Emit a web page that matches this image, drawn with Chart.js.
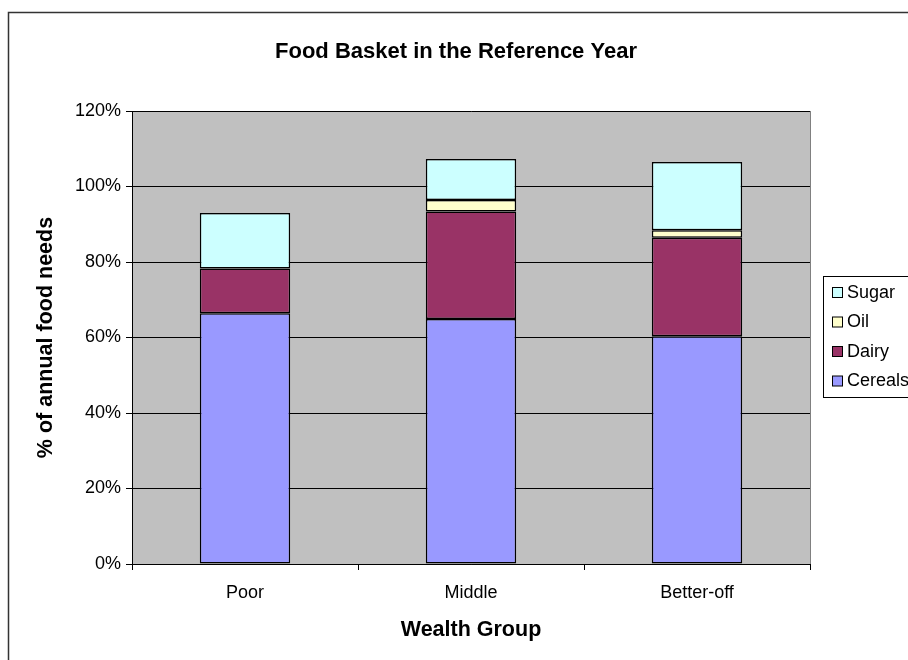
<!DOCTYPE html>
<html>
<head>
<meta charset="utf-8">
<title>Food Basket in the Reference Year</title>
<script src="https://cdn.jsdelivr.net/npm/chart.js@4/dist/chart.umd.min.js"></script>
<style>
  html, body { margin: 0; padding: 0; background: #fff; }
  #wrap { position: relative; width: 908px; height: 660px; }
</style>
</head>
<body>
<div id="wrap"><canvas id="basketChart" width="908" height="660"></canvas></div>
<script>
// Wealth groups and food shares (% of annual needs)
const groups = ['Poor', 'Middle', 'Better-off'];
const cereals = [66.4, 64.9, 60.3];
const dairy = [11.9, 28.5, 26.1];
const oil = [0, 3.0, 2.0];
const sugar = [14.7, 10.9, 18.1];
const yTicks = [0, 20, 40, 60, 80, 100, 120];

const colors = {
    cereals: '#9999FF',
    dairy: '#993366',
    oil: '#FFFFCC',
    sugar: '#CCFFFF',
    plot: '#C0C0C0'
};

const FONT = '"Liberation Sans", Arial, sans-serif';

function series(label, data, color) {
    return {
        label: label,
        data: data,
        backgroundColor: color,
        borderColor: '#000',
        borderWidth: 1.5,
        borderSkipped: false,
        barPercentage: 0.40,
        categoryPercentage: 1.0
    };
}

// grey plot area, frame round the whole chart, title and legend
const excelLook = {
    id: 'excelLook',
    beforeDraw(chart) {
        const { ctx: c, chartArea: a } = chart;
        c.save();
        c.fillStyle = '#fff';
        c.fillRect(0, 0, chart.width, chart.height);
        c.strokeStyle = '#333';
        c.lineWidth = 1.5;
        c.strokeRect(8.5, 12.5, chart.width + 10, chart.height + 10);
        c.fillStyle = colors.plot;
        c.fillRect(a.left, a.top, a.right - a.left, a.bottom - a.top);
        c.strokeStyle = '#808080';
        c.lineWidth = 1;
        c.strokeRect(a.left + 0.5, a.top + 0.5, a.right - a.left, a.bottom - a.top);
        c.restore();
    },
    afterDraw(chart) {
        const c = chart.ctx;
        c.save();
        c.fillStyle = '#000';
        c.font = 'bold 22px ' + FONT;
        c.textAlign = 'center';
        c.textBaseline = 'middle';
        c.fillText('Food Basket in the Reference Year', 456, 52);

        // legend, top series first
        const lx = 823, ly = 276, lh = 121;
        c.fillStyle = '#fff';
        c.fillRect(lx, ly, 100, lh);
        c.strokeStyle = '#000';
        c.lineWidth = 1;
        c.strokeRect(lx + 0.5, ly + 0.5, 100, lh);
        c.font = '18px ' + FONT;
        c.textAlign = 'left';
        const items = chart.data.datasets.slice().reverse();
        items.forEach((ds, i) => {
            const y = ly + 17 + i * 29.5;
            c.fillStyle = ds.backgroundColor;
            c.fillRect(lx + 9.5, y - 5.5, 10, 10);
            c.strokeStyle = '#000';
            c.strokeRect(lx + 9.5, y - 5.5, 10, 10);
            c.fillStyle = '#000';
            c.fillText(ds.label, lx + 24, y);
        });
        c.restore();
    }
};

new Chart(document.getElementById('basketChart'), {
    type: 'bar',
    data: {
        labels: groups,
        datasets: [
            series('Cereals', cereals, colors.cereals),
            series('Dairy', dairy, colors.dairy),
            series('Oil', oil, colors.oil),
            series('Sugar', sugar, colors.sugar)
        ]
    },
    options: {
        responsive: false,
        animation: false,
        layout: { padding: { left: 0, top: 111, right: 98, bottom: 0 } },
        plugins: {
            legend: { display: false },
            title: { display: false },
            tooltip: { enabled: false }
        },
        scales: {
            x: {
                stacked: true,
                afterFit: s => { s.height = 660 - 111 - 453; },
                grid: {
                    offset: true,
                    drawOnChartArea: false,
                    drawTicks: true,
                    tickLength: 6,
                    color: '#000'
                },
                border: { color: '#000', width: 1 },
                ticks: {
                    color: '#000',
                    font: { family: FONT, size: 18 },
                    padding: 12
                },
                title: {
                    display: true,
                    text: 'Wealth Group',
                    color: '#000',
                    font: { family: FONT, size: 21.5, weight: 'bold' },
                    padding: { top: 0, bottom: 17 }
                }
            },
            y: {
                stacked: true,
                min: 0,
                max: 120,
                afterFit: s => { s.width = 132; },
                afterBuildTicks: s => { s.ticks = yTicks.map(v => ({ value: v })); },
                grid: {
                    color: '#000',
                    tickLength: 6,
                    drawTicks: true
                },
                border: { color: '#000', width: 1 },
                ticks: {
                    color: '#000',
                    font: { family: FONT, size: 18 },
                    padding: 5,
                    callback: v => v + '%'
                },
                title: {
                    display: true,
                    text: '% of annual food needs',
                    color: '#000',
                    font: { family: FONT, size: 21.5, weight: 'bold' },
                    padding: { top: 33, bottom: 0 }
                }
            }
        }
    },
    plugins: [excelLook]
});
</script>
</body>
</html>
